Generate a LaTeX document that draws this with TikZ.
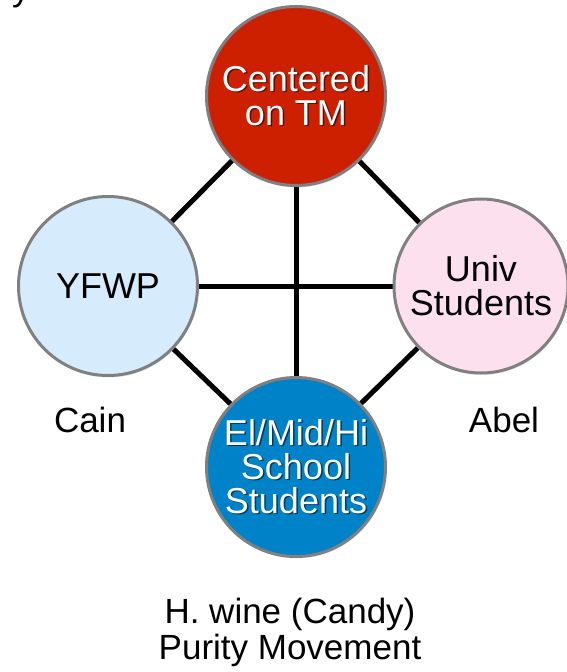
\documentclass[tikz,border=0pt]{standalone}
\usepackage{fontspec}
\setmainfont{Liberation Sans}
\usepackage{xcolor}
\usetikzlibrary{backgrounds,shadows}
\definecolor{dgred}{RGB}{204,32,0}
\definecolor{dgblue}{RGB}{0,130,200}
\definecolor{dglightblue}{RGB}{214,236,252}
\definecolor{dgpink}{RGB}{253,224,238}
\definecolor{dgrim}{RGB}{128,128,128}
\tikzset{
  dgcircle/.style={circle, draw=dgrim, line width=3pt, minimum size=179pt, inner sep=0pt, align=center, font=\fontsize{36}{34}\selectfont, drop shadow={opacity=0.2, shadow xshift=1pt, shadow yshift=-2pt}},
  dglink/.style={line width=5pt, draw=black},
  dglabel/.style={align=center, inner sep=0pt, font=\fontsize{35}{36}\selectfont}
}
\newcommand{\dgshadow}[2]{\leavevmode\rlap{\kern1.5pt\raisebox{-1.5pt}{\textcolor{#1}{#2}}}#2}

\begin{document}
\begin{tikzpicture}[x=1pt, y=-1pt]
  \useasboundingbox (0,0) rectangle (566,672);
  \node[anchor=base west, inner sep=0pt, font=\fontsize{36}{36}\selectfont] (ttl) at (12,0) {y};
  % the four groups
  \node[dgcircle, fill=dgred, text=white] (tm) at (296,96) {\dgshadow{dgred!45!black}{Centered}\\\dgshadow{dgred!45!black}{on TM}};
  \node[dgcircle, fill=dglightblue] (yf) at (108,286) {YFWP};
  \node[dgcircle, fill=dgpink, minimum size=174pt] (uv) at (481,286) {Univ\\Students};
  \node[dgcircle, fill=dgblue, text=white] (sch) at (296,467) {\dgshadow{dgblue!45!black}{El/Mid/Hi}\\\dgshadow{dgblue!45!black}{School}\\\dgshadow{dgblue!45!black}{Students}};
  \begin{scope}[on background layer]
    \draw[dglink] (tm) -- (yf);
    \draw[dglink] (tm) -- (uv);
    \draw[dglink] (yf) -- (sch);
    \draw[dglink] (uv) -- (sch);
    \draw[dglink] (tm) -- (sch);
    \draw[dglink] (yf) -- (uv);
  \end{scope}
  % side and bottom labels
  \node[dglabel] (cain) at (90,420) {Cain};
  \node[dglabel] (abel) at (504,420) {Abel};
  \node[dglabel] (hw) at (290,632) {H. wine (Candy)\\Purity Movement};
\end{tikzpicture}
\end{document}
